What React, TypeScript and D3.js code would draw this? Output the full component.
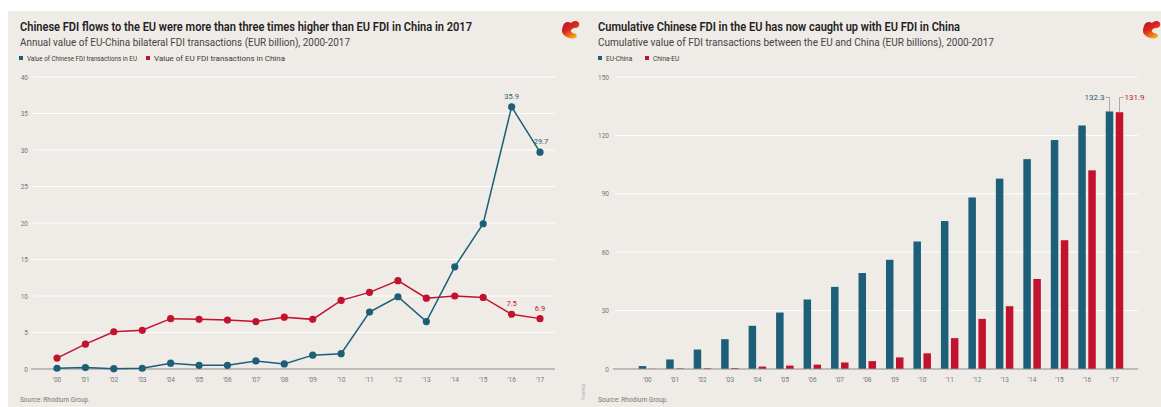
import React from "react";
import * as d3 from "d3";

const years = ["'00","'01","'02","'03","'04","'05","'06","'07","'08","'09","'10","'11","'12","'13","'14","'15","'16","'17"];
const chineseInEU = [0.1,0.2,0.05,0.1,0.8,0.5,0.5,1.1,0.7,1.9,2.1,7.8,9.9,6.5,14.0,19.9,35.9,29.7];
const euInChina = [1.5,3.4,5.1,5.3,6.9,6.8,6.7,6.5,7.1,6.8,9.4,10.5,12.1,9.7,10.0,9.8,7.5,6.9];
const cumEUChina = [1.5,4.9,10.0,15.3,22.2,29.0,35.7,42.2,49.3,56.1,65.5,76.0,88.1,97.8,107.8,117.6,125.1,132.3];
const cumChinaEU = [0.1,0.3,0.35,0.45,1.25,1.75,2.25,3.35,4.05,5.95,8.05,15.85,25.75,32.25,46.25,66.15,102.05,131.9];
const leftTicks = [0,5,10,15,20,25,30,35,40];
const rightTicks = [0,30,60,90,120,150];

const BLUE = "#1c5f78";
const RED = "#c3122d";
const BG = "#efebe7";
const TXT = "#3a3a3a";
const GREY = "#8c8c8c";
const FONT = "Roboto, 'Open Sans', sans-serif";

function Logo({ x, y }: { x: number; y: number }) {
  return (
    <g transform={`translate(${x},${y})`}>
      <defs>
        <linearGradient id={`lg${x}`} x1="0" y1="0" x2="0.6" y2="1">
          <stop offset="0" stopColor="#b50f2d" />
          <stop offset="0.5" stopColor="#d8261f" />
          <stop offset="1" stopColor="#f6a81c" />
        </linearGradient>
      </defs>
      <path
        d="M2,6 C3,2 7,1 10,3 C12,1 16,0 18,3 C19,6 17,8 14,8 C12,8 10,9 10,11 C10,13 13,13 15,14 C17,16 15,19 11,18.5 C6,18 1,15 1,11 C1,9 1.5,7 2,6 Z"
        fill={`url(#lg${x})`}
      />
    </g>
  );
}

export default function App() {
  const W = 1161, H = 407;
  const xl = d3.scalePoint<string>().domain(years).range([57, 540]);
  const yl = d3.scaleLinear().domain([0, 40]).range([369, 77]);
  const xr = d3.scalePoint<string>().domain(years).range([647.5, 1114.5]);
  const yr = d3.scaleLinear().domain([0, 150]).range([369, 77]);
  const bw = 7.5, gap = 2.5;

  const line = d3.line<number>().x((_, i) => xl(years[i])!).y((d) => yl(d));

  const blueTopX = xr(years[17])! - gap / 2 - bw / 2;
  const redTopX = xr(years[17])! + gap / 2 + bw / 2;
  const blueTopY = yr(cumEUChina[17]);
  const redTopY = yr(cumChinaEU[17]);

  return (
    <svg width={W} height={H} style={{ position: "absolute", left: 0, top: 0, fontFamily: FONT }}>
      <rect x={0} y={0} width={W} height={H} fill="#ffffff" />
      <rect x={8} y={11} width={W - 8} height={H - 11} fill={BG} />

      {/* ---------- LEFT CHART ---------- */}
      <text x={20} y={31} fontSize={12} fontWeight={600} fill="#222" textLength={452} lengthAdjust="spacingAndGlyphs">
        Chinese FDI flows to the EU were more than three times higher than EU FDI in China in 2017
      </text>
      <text x={20} y={46} fontSize={11} fill="#444" textLength={330} lengthAdjust="spacingAndGlyphs">
        Annual value of EU-China bilateral FDI transactions (EUR billion), 2000-2017
      </text>
      <rect x={19} y={56} width={4} height={4} fill={BLUE} />
      <text x={27} y={60.5} fontSize={6.5} fill={TXT} textLength={110} lengthAdjust="spacingAndGlyphs">
        Value of Chinese FDI transactions in EU
      </text>
      <rect x={146} y={56} width={4} height={4} fill={RED} />
      <text x={154} y={60.5} fontSize={6.5} fill={TXT} textLength={131} lengthAdjust="spacingAndGlyphs">
        Value of EU FDI transactions in China
      </text>
      <Logo x={561} y={20} />

      {leftTicks.map((t) => (
        <g key={`lt${t}`}>
          {t > 0 && <line x1={33} x2={555} y1={yl(t)} y2={yl(t)} stroke="#ffffff" strokeWidth={1} />}
          <text x={28} y={yl(t) + 2.5} fontSize={6.5} fill="#777" textAnchor="end">{t}</text>
        </g>
      ))}
      <line x1={31} x2={555} y1={yl(0)} y2={yl(0)} stroke={GREY} strokeWidth={1} />
      {years.map((y) => (
        <text key={`lx${y}`} x={xl(y)!} y={382} fontSize={6.5} fill="#777" textAnchor="middle">{y}</text>
      ))}

      <path d={line(euInChina)!} fill="none" stroke={RED} strokeWidth={1.5} />
      {euInChina.map((v, i) => (
        <circle key={`rp${i}`} cx={xl(years[i])!} cy={yl(v)} r={3.6} fill={RED} />
      ))}
      <path d={line(chineseInEU)!} fill="none" stroke={BLUE} strokeWidth={1.5} />
      {chineseInEU.map((v, i) => (
        <circle key={`bp${i}`} cx={xl(years[i])!} cy={yl(v)} r={3.6} fill={BLUE} />
      ))}

      <text x={xl(years[16])!} y={yl(chineseInEU[16]) - 8} fontSize={7.5} fill={BLUE} textAnchor="middle">35.9</text>
      <text x={xl(years[17])! + 1} y={yl(chineseInEU[17]) - 8} fontSize={7.5} fill={BLUE} textAnchor="middle">29.7</text>
      <text x={xl(years[16])!} y={yl(euInChina[16]) - 8} fontSize={7.5} fill={RED} textAnchor="middle">7.5</text>
      <text x={xl(years[17])!} y={yl(euInChina[17]) - 8} fontSize={7.5} fill={RED} textAnchor="middle">6.9</text>

      <text x={20} y={402} fontSize={6.5} fill="#777">Source: Rhodium Group.</text>
      <text x={585} y={400} fontSize={3.5} fill="#999" transform="rotate(-90 585 400)">© MERICS</text>

      {/* ---------- RIGHT CHART ---------- */}
      <text x={598} y={31} fontSize={12} fontWeight={600} fill="#222" textLength={362} lengthAdjust="spacingAndGlyphs">
        Cumulative Chinese FDI in the EU has now caught up with EU FDI in China
      </text>
      <text x={598} y={46} fontSize={11} fill="#444" textLength={396} lengthAdjust="spacingAndGlyphs">
        Cumulative value of FDI transactions between the EU and China (EUR billions), 2000-2017
      </text>
      <rect x={598} y={56} width={4} height={4} fill={BLUE} />
      <text x={606} y={60.5} fontSize={6.5} fill={TXT}>EU-China</text>
      <rect x={645} y={56} width={4} height={4} fill={RED} />
      <text x={653} y={60.5} fontSize={6.5} fill={TXT}>China-EU</text>
      <Logo x={1142} y={20} />

      {rightTicks.map((t) => (
        <g key={`rt${t}`}>
          {t > 0 && <line x1={615} x2={1138} y1={yr(t)} y2={yr(t)} stroke="#ffffff" strokeWidth={1} />}
          <text x={609} y={yr(t) + 2.5} fontSize={6.5} fill="#777" textAnchor="end">{t}</text>
        </g>
      ))}

      {cumEUChina.map((v, i) => (
        <rect key={`rb${i}`} x={xr(years[i])! - gap / 2 - bw} y={yr(v)} width={bw} height={yr(0) - yr(v)} fill={BLUE} />
      ))}
      {cumChinaEU.map((v, i) => (
        <rect key={`rr${i}`} x={xr(years[i])! + gap / 2} y={yr(v)} width={bw} height={yr(0) - yr(v)} fill={RED} />
      ))}
      <line x1={613} x2={1138} y1={yr(0)} y2={yr(0)} stroke={GREY} strokeWidth={1} />
      {years.map((y) => (
        <text key={`rx${y}`} x={xr(y)!} y={382} fontSize={6.5} fill="#777" textAnchor="middle">{y}</text>
      ))}

      <path d={`M${blueTopX - 4},${blueTopY - 14} H${blueTopX} V${blueTopY}`} fill="none" stroke={GREY} strokeWidth={0.7} />
      <text x={blueTopX - 5} y={blueTopY - 11.5} fontSize={8} fill={BLUE} textAnchor="end">132.3</text>
      <path d={`M${redTopX + 4},${blueTopY - 14} H${redTopX} V${redTopY}`} fill="none" stroke={GREY} strokeWidth={0.7} />
      <text x={redTopX + 5} y={blueTopY - 11.5} fontSize={8} fill={RED}>131.9</text>

      <text x={598} y={402} fontSize={6.5} fill="#777">Source: Rhodium Group.</text>
    </svg>
  );
}
